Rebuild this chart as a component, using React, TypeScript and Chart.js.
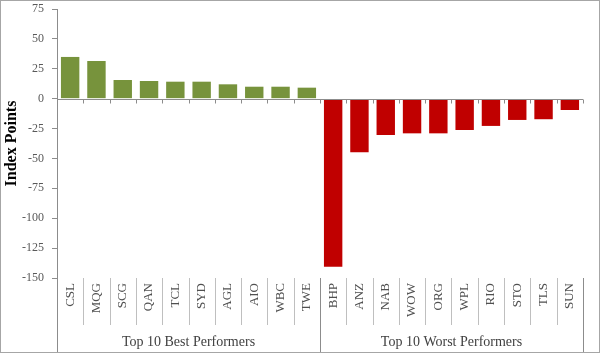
import React, { useEffect, useRef } from "react";
import { Chart, registerables } from "chart.js";

Chart.register(...registerables);

const bestLabels = ["CSL", "MQG", "SCG", "QAN", "TCL", "SYD", "AGL", "AIO", "WBC", "TWE"];
const bestValues = [34.9, 31.5, 15.6, 14.8, 14.2, 14.2, 12.0, 10.0, 10.0, 9.2];
const worstLabels = ["BHP", "ANZ", "NAB", "WOW", "ORG", "WPL", "RIO", "STO", "TLS", "SUN"];
const worstValues = [-140.5, -44.8, -30.4, -29.0, -29.0, -26.2, -22.8, -17.8, -17.2, -9.5];
const groupLabels = ["Top 10 Best Performers", "Top 10 Worst Performers"];
const yTitle = "Index Points";

const GREEN = "#77933C";
const RED = "#C00000";
const AXIS = "#8c8c8c";
const SEP = "#bfbfbf";

export default function App() {
  const ref = useRef<HTMLCanvasElement | null>(null);

  useEffect(() => {
    document.body.style.margin = "0";
    const canvas = ref.current;
    if (!canvas) return;

    const labels = [...bestLabels, ...worstLabels];
    const values = [...bestValues, ...worstValues];
    const colors = [...bestLabels.map(() => GREEN), ...worstLabels.map(() => RED)];

    const decor = {
      id: "decor",
      afterDraw(chart: any) {
        const ctx = chart.ctx as CanvasRenderingContext2D;
        const area = chart.chartArea;
        const x = chart.scales.x;
        const y = chart.scales.y;
        const H = chart.height;
        const W = chart.width;
        const n = labels.length;
        const step = (area.right - area.left) / n;
        ctx.save();
        // zero line + tick marks
        const y0 = Math.round(y.getPixelForValue(0)) + 0.5;
        ctx.strokeStyle = AXIS;
        ctx.lineWidth = 1;
        ctx.beginPath();
        ctx.moveTo(area.left, y0);
        ctx.lineTo(area.right, y0);
        for (let i = 1; i <= n; i++) {
          const xb = Math.round(x.getPixelForValue(i - 1) + step / 2) + 0.5;
          ctx.moveTo(xb, y0);
          ctx.lineTo(xb, y0 + 4);
        }
        ctx.stroke();
        // category separators
        ctx.strokeStyle = SEP;
        ctx.beginPath();
        for (let i = 1; i < n; i++) {
          if (i === bestLabels.length) continue;
          const xb = Math.round(x.getPixelForValue(i - 1) + step / 2) + 0.5;
          ctx.moveTo(xb, area.bottom);
          ctx.lineTo(xb, area.bottom + 47);
        }
        ctx.stroke();
        // group separators
        ctx.strokeStyle = AXIS;
        ctx.beginPath();
        const gb = [0, bestLabels.length, n];
        for (const g of gb) {
          const xb = Math.round(x.getPixelForValue(g - 0.5)) + 0.5;
          ctx.moveTo(xb, area.bottom);
          ctx.lineTo(xb, H);
        }
        ctx.stroke();
        // group labels
        ctx.fillStyle = "#404040";
        ctx.font = "14px 'Liberation Serif', serif";
        ctx.textAlign = "center";
        ctx.textBaseline = "middle";
        for (let gi = 0; gi < 2; gi++) {
          const a = x.getPixelForValue(gb[gi] - 0.5);
          const b = x.getPixelForValue(gb[gi + 1] - 0.5);
          ctx.fillText(groupLabels[gi], (a + b) / 2, 342);
        }
        // outer border
        ctx.strokeStyle = "#a6a6a6";
        ctx.strokeRect(0.5, 0.5, W - 1, H - 1);
        ctx.restore();
      },
    };

    const chart = new Chart(canvas, {
      type: "bar",
      data: {
        labels,
        datasets: [
          {
            data: values,
            backgroundColor: colors,
            borderWidth: 0,
            categoryPercentage: 1,
            barPercentage: 0.7,
          },
        ],
      },
      options: {
        animation: false,
        responsive: false,
        devicePixelRatio: 1,
        layout: { padding: { top: 9, right: 17, left: 0, bottom: 0 } },
        plugins: { legend: { display: false }, tooltip: { enabled: false } },
        scales: {
          x: {
            grid: { display: false, drawTicks: false },
            border: { display: false },
            ticks: {
              autoSkip: false,
              maxRotation: 90,
              minRotation: 90,
              padding: 5,
              color: "#505050",
              font: { family: "'Liberation Serif', serif", size: 13 },
            },
            afterFit(scale: any) {
              scale.height = 75;
              scale.paddingLeft = 0;
              scale.paddingRight = 0;
              scale.paddingTop = 0;
              scale.paddingBottom = 0;
            },
          },
          y: {
            min: -150,
            max: 75,
            ticks: {
              stepSize: 25,
              padding: 8,
              color: "#595959",
              font: { family: "'Liberation Serif', serif", size: 12 },
            },
            grid: {
              display: true,
              drawOnChartArea: false,
              drawTicks: true,
              tickLength: 5,
              color: AXIS,
            },
            border: { display: true, color: AXIS },
            title: {
              display: true,
              text: yTitle,
              color: "#000000",
              padding: { top: 2, bottom: 0 },
              font: { family: "'Liberation Serif', serif", size: 16, weight: "bold" },
            },
            afterFit(scale: any) {
              scale.width = 57;
              scale.paddingTop = 0;
              scale.paddingBottom = 0;
            },
          },
        },
      },
      plugins: [decor],
    });

    return () => chart.destroy();
  }, []);

  return (
    <div style={{ width: 600, height: 353 }}>
      <canvas ref={ref} width={600} height={353} style={{ display: "block" }} />
    </div>
  );
}
